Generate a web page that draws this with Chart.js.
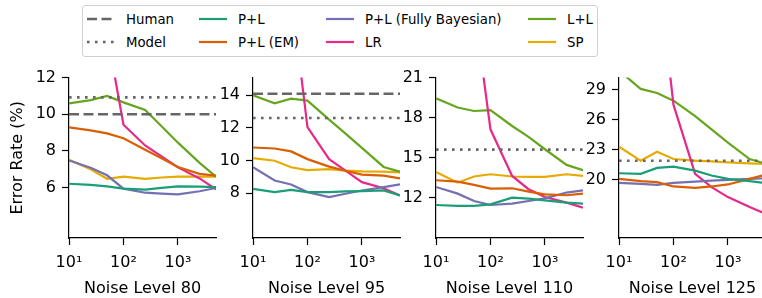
<!DOCTYPE html>
<html lang="en">
<head>
<meta charset="UTF-8">
<title>Error Rate vs Noise Level</title>
<script src="https://cdn.jsdelivr.net/npm/chart.js"></script>
<style>
  body { margin: 0; width: 762px; height: 298px; overflow: hidden; background: #fff; position: relative;
         font-family: "DejaVu Sans", sans-serif; font-size: 13.3px; color: #000; }
  canvas { position: absolute; }
  #legend { position: absolute; left: 82px; top: 5px; width: 514px; height: 50px;
            border: 1px solid #d0d0d0; border-radius: 3px; background: #fff; }
  .item { position: absolute; height: 16px; display: flex; align-items: center; white-space: nowrap; }
  .item svg { margin-right: 11px; }
</style>
</head>
<body>
<div id="legend"></div>
<canvas id="c0"></canvas>
<canvas id="c1"></canvas>
<canvas id="c2"></canvas>
<canvas id="c3"></canvas>

<script>
// x positions shared by every panel
const xValues = [10, 25, 50, 100, 250, 500, 1000, 2500, 5000];
const panelTitles = ['Noise Level 80', 'Noise Level 95', 'Noise Level 110', 'Noise Level 125'];

// reference lines (null = not visible in that panel)
const humanLevel = [10.0, 14.08, null, null];
const modelLevel = [10.92, 12.6, 15.61, 21.91];

// one row per panel
const plValues = [
  [6.21, 6.15, 6.07, 5.94, 5.89, 5.98, 6.07, 6.05, 6.03],
  [8.26, 8.06, 8.2, 8.06, 8.06, 8.1, 8.12, 8.16, 7.86],
  [11.47, 11.4, 11.4, 11.52, 12.02, 11.95, 11.82, 11.65, 11.57],
  [20.66, 20.6, 21.19, 21.32, 20.92, 20.43, 20.1, 19.87, 19.67]
];
const plEmValues = [
  [9.29, 9.12, 8.96, 8.69, 8.06, 7.6, 7.12, 6.75, 6.65],
  [10.79, 10.73, 10.55, 10.08, 9.62, 9.37, 9.13, 9.07, 8.9],
  [13.32, 13.22, 12.97, 12.7, 12.72, 12.47, 12.27, 12.2, 12.32],
  [20.1, 19.87, 19.77, 19.34, 19.21, 19.34, 19.54, 20.1, 20.53]
];
const plBayesValues = [
  [7.48, 7.08, 6.67, 5.94, 5.72, 5.67, 5.63, 5.8, 5.98],
  [9.58, 8.77, 8.53, 8.06, 7.76, 7.96, 8.16, 8.36, 8.53],
  [12.82, 12.32, 11.77, 11.47, 11.57, 11.77, 11.97, 12.4, 12.57],
  [19.7, 19.6, 19.5, 19.7, 19.83, 19.93, 20.0, 20.1, 20.16]
];
const lrValues = [
  [30, 20, 14.4, 9.43, 8.3, 7.7, 7.1, 6.5, 5.9],
  [40, 30, 20.3, 12.04, 10.08, 9.37, 8.67, 8.3, 7.86],
  [45, 35, 26.4, 17.13, 13.64, 12.65, 12.07, 11.65, 11.27],
  [60, 50, 42, 27.5, 20.6, 19.27, 18.28, 17.3, 16.6]
];
const llValues = [
  [10.59, 10.77, 11.0, 10.65, 10.23, 9.35, 8.45, 7.35, 6.6],
  [13.98, 13.5, 13.78, 13.66, 12.5, 11.64, 10.77, 9.6, 9.31],
  [19.45, 18.76, 18.5, 18.56, 17.38, 16.56, 15.64, 14.47, 14.07],
  [30.9, 29.07, 28.67, 27.9, 26.36, 25.04, 23.72, 22.08, 21.6]
];
const spValues = [
  [7.52, 7.0, 6.48, 6.6, 6.48, 6.55, 6.6, 6.6, 6.6],
  [10.14, 9.98, 9.58, 9.41, 9.47, 9.37, 9.33, 9.31, 9.27],
  [13.94, 13.14, 13.6, 13.77, 13.6, 13.57, 13.57, 13.77, 13.64],
  [23.3, 21.91, 22.8, 22.08, 21.91, 21.85, 21.75, 21.65, 21.58]
];

// y axis limits and ticks per panel
const yMins = [3.25, 5.25, 9, 14.2];
const yMaxs = [12, 15.07, 21, 30.2];
const yTicks = [[6, 8, 10, 12], [8, 10, 12, 14], [12, 15, 18, 21], [20, 23, 26, 29]];

const methods = [
  { label: 'P+L', color: '#1b9e77', values: plValues },
  { label: 'P+L (EM)', color: '#d95f02', values: plEmValues },
  { label: 'P+L (Fully Bayesian)', color: '#7570b3', values: plBayesValues },
  { label: 'LR', color: '#e7298a', values: lrValues },
  { label: 'L+L', color: '#66a61e', values: llValues },
  { label: 'SP', color: '#e6ab02', values: spValues }
];
const gray = '#666666';
const dashHuman = [10, 4.5];
const dashModel = [2.6, 5.4];

Chart.defaults.font.family = 'DejaVu Sans';
Chart.defaults.font.size = 16;
Chart.defaults.color = '#000';

// plot areas (left edge in page px), all share top/bottom
const plotLefts = [69, 253, 436, 619];
const plotWidth = 147;
const plotTop = 76, plotBottom = 238;
const canvasTop = 62;
const sup = { 10: '10\u00b9', 100: '10\u00b2', 1000: '10\u00b3' };

for (let p = 0; p < 4; p++) {
  const yAxisW = p === 0 ? 69 : 45;
  const padR = 6;
  const cv = document.getElementById('c' + p);
  const w = yAxisW + plotWidth + padR;
  const h = 298 - canvasTop;
  cv.width = w; cv.height = h;
  cv.style.width = w + 'px'; cv.style.height = h + 'px';
  cv.style.left = (plotLefts[p] - yAxisW) + 'px';
  cv.style.top = canvasTop + 'px';

  const datasets = [];
  if (humanLevel[p] !== null) {
    datasets.push({ label: 'Human', data: [{ x: 10, y: humanLevel[p] }, { x: 5000, y: humanLevel[p] }],
      borderColor: gray, borderWidth: 2.6, borderDash: dashHuman });
  }
  datasets.push({ label: 'Model', data: [{ x: 10, y: modelLevel[p] }, { x: 5000, y: modelLevel[p] }],
    borderColor: gray, borderWidth: 2.6, borderDash: dashModel });
  methods.forEach(m => {
    datasets.push({ label: m.label, data: xValues.map((x, i) => ({ x: x, y: m.values[p][i] })),
      borderColor: m.color, borderWidth: 2.2 });
  });

  new Chart(cv, {
    type: 'line',
    data: { datasets: datasets },
    options: {
      responsive: false,
      animation: false,
      events: [],
      elements: { point: { radius: 0 }, line: { tension: 0, borderCapStyle: 'butt' } },
      layout: { padding: { top: plotTop - canvasTop, right: padR, left: 0, bottom: 0 } },
      plugins: { legend: { display: false }, tooltip: { enabled: false } },
      scales: {
        x: {
          type: 'logarithmic', min: 10, max: 5000,
          afterBuildTicks: s => { s.ticks = [10, 100, 1000].map(v => ({ value: v, major: true })); },
          afterFit: s => { s.height = h - (plotBottom - canvasTop); },
          grid: { drawOnChartArea: false, color: '#000', tickLength: 7, tickWidth: 1.2 },
          border: { color: '#000', width: 1.2 },
          ticks: { autoSkip: false, maxRotation: 0, padding: 8, callback: v => sup[v] || '' },
          title: { display: true, text: panelTitles[p], padding: { top: 3, bottom: 0 } }
        },
        y: {
          min: yMins[p], max: yMaxs[p],
          afterBuildTicks: s => { s.ticks = yTicks[p].map(v => ({ value: v })); },
          afterFit: s => { s.width = yAxisW; },
          grid: { drawOnChartArea: false, color: '#000', tickLength: 7, tickWidth: 1.2 },
          border: { color: '#000', width: 1.2 },
          ticks: { padding: 6 },
          title: { display: p === 0, text: 'Error Rate (%)', padding: { top: 8, bottom: 0 } }
        }
      }
    }
  });
}

// legend, column by column
const legendItems = [
  { label: 'Human', color: gray, dash: dashHuman, col: 0, row: 0 },
  { label: 'Model', color: gray, dash: dashModel, col: 0, row: 1 },
  { label: 'P+L', color: '#1b9e77', col: 1, row: 0 },
  { label: 'P+L (EM)', color: '#d95f02', col: 1, row: 1 },
  { label: 'P+L (Fully Bayesian)', color: '#7570b3', col: 2, row: 0 },
  { label: 'LR', color: '#e7298a', col: 2, row: 1 },
  { label: 'L+L', color: '#66a61e', col: 3, row: 0 },
  { label: 'SP', color: '#e6ab02', col: 3, row: 1 }
];
const colLefts = [4, 116, 243, 445];
const rowTops = [5, 28];
const legend = document.getElementById('legend');
legendItems.forEach(it => {
  const d = document.createElement('div');
  d.className = 'item';
  d.style.left = colLefts[it.col] + 'px';
  d.style.top = rowTops[it.row] + 'px';
  const dash = it.dash ? ` stroke-dasharray="${it.dash.join(' ')}"` : '';
  const sw = it.dash ? 2.6 : 2.2;
  d.innerHTML = `<svg width="28" height="6"><line x1="0" y1="3" x2="28" y2="3" stroke="${it.color}" stroke-width="${sw}"${dash}/></svg><span>${it.label}</span>`;
  legend.appendChild(d);
});
</script>
</body>
</html>
